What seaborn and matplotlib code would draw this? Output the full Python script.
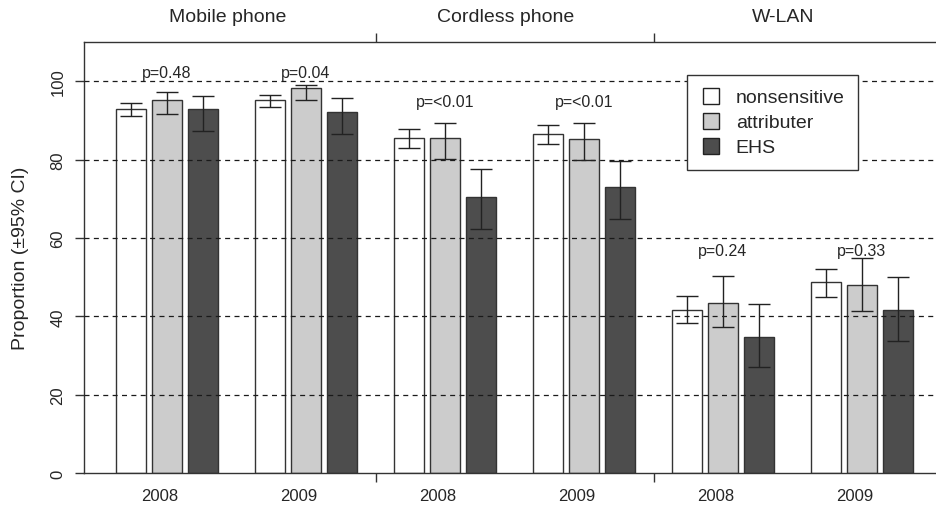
import numpy as np
import pandas as pd
import seaborn as sns
from matplotlib import pyplot as plt
from matplotlib.lines import Line2D
from matplotlib.transforms import blended_transform_factory

# Proportions (%) with 95% CI, per device and year
devices = ['Mobile phone', 'Cordless phone', 'W-LAN']
years = ['2008', '2009']
groups = ['nonsensitive', 'attributer', 'EHS']

nonsensitive = [92.9, 95.2, 85.6, 86.6, 41.6, 48.7]
nonsensitive_lo = [91.1, 93.4, 82.9, 84.0, 38.3, 45.0]
nonsensitive_hi = [94.5, 96.6, 87.9, 88.7, 45.3, 52.1]

attributer = [95.2, 98.2, 85.6, 85.3, 43.5, 47.9]
attributer_lo = [91.6, 95.2, 80.2, 79.8, 37.2, 41.4]
attributer_hi = [97.3, 99.1, 89.4, 89.3, 50.2, 54.8]

ehs = [92.9, 92.1, 70.4, 73.0, 34.6, 41.6]
ehs_lo = [87.4, 86.4, 62.3, 64.8, 27.0, 33.6]
ehs_hi = [96.2, 95.7, 77.7, 79.7, 43.2, 50.0]

p_values = ['p=0.48', 'p=0.04', 'p=<0.01', 'p=<0.01', 'p=0.24', 'p=0.33']

colors = ['#ffffff', '#cccccc', '#4d4d4d']

# long format table for seaborn
cells = [d + ' ' + y for d in devices for y in years]
values = {'nonsensitive': nonsensitive, 'attributer': attributer, 'EHS': ehs}
lows = {'nonsensitive': nonsensitive_lo, 'attributer': attributer_lo, 'EHS': ehs_lo}
highs = {'nonsensitive': nonsensitive_hi, 'attributer': attributer_hi, 'EHS': ehs_hi}
df = pd.DataFrame([(c, g, values[g][i]) for g in groups for i, c in enumerate(cells)],
                  columns=['cell', 'group', 'value'])

sns.set_style('white')
plt.rcParams['font.family'] = ['Liberation Sans', 'DejaVu Sans']

fig = plt.figure(figsize=(9.36, 5.06), dpi=100)
ax = fig.add_axes([84 / 936, 32 / 506, 852 / 936, 431 / 506])

sns.barplot(data=df, x='cell', y='value', hue='group', order=cells, hue_order=groups,
            palette=dict(zip(groups, colors)), width=0.78, gap=0.17, errorbar=None,
            edgecolor='#333333', linewidth=1.0, legend=False, ax=ax)

# error bars on top of each bar
for cont, g in zip(ax.containers, groups):
    xs = [b.get_x() + b.get_width() / 2 for b in cont]
    hs = np.array([b.get_height() for b in cont])
    yerr = [hs - np.array(lows[g]), np.array(highs[g]) - hs]
    ax.errorbar(xs, hs, yerr=yerr, fmt='none', ecolor='#222222', elinewidth=1.0,
                capsize=8, capthick=1.0, zorder=4)

# dashed reference lines
for y in range(20, 101, 20):
    ax.axhline(y, color='#1a1a1a', lw=0.9, ls=(0, (4, 3.5)), zorder=3)

ax.set_xlim(-0.597, 5.532)
ax.set_ylim(0, 110)

ax.set_xticks([i - 0.05 for i in range(len(cells))], labels=years * 3, fontsize=12)
ax.set_xticks([1.5, 3.5], minor=True)
ax.tick_params(axis='x', which='major', length=0, pad=11)
ax.tick_params(axis='x', which='minor', length=6.5, width=1, color='#333333',
               direction='out', top=True, bottom=True)

ax.set_yticks(range(0, 101, 20))
ax.tick_params(axis='y', length=6.5, width=1, color='#333333', left=True, labelsize=12, pad=7)
plt.setp(ax.get_yticklabels(), rotation=90, va='center')

ax.set_xlabel('')
ax.set_ylabel('Proportion (±95% CI)', fontsize=14, labelpad=15)

for side in ['left', 'top', 'bottom']:
    ax.spines[side].set_color('#333333')
    ax.spines[side].set_linewidth(1.0)
ax.spines['right'].set_visible(False)

# device names above the plot
trans = blended_transform_factory(ax.transData, ax.transAxes)
for i, d in enumerate(devices):
    ax.text(2 * i + 0.5 - 0.065, 1.06, d, transform=trans, ha='center', va='center', fontsize=14)

# p-values above each year
p_label_y = [102.2, 102.2, 94.7, 94.7, 56.7, 56.7]
for i, p in enumerate(p_values):
    ax.text(i, p_label_y[i], p, ha='center', va='center', fontsize=11.5)

handles = [Line2D([], [], ls='', marker='s', markersize=11, markerfacecolor=c,
                  markeredgecolor='#222222', markeredgewidth=1) for c in colors]
leg = ax.legend(handles, groups, loc='upper left', bbox_to_anchor=(0.708, 0.923),
                fontsize=14, frameon=True, fancybox=False, framealpha=1,
                edgecolor='#333333', borderpad=0.7, labelspacing=0.38,
                handlelength=1.0, handletextpad=0.8, borderaxespad=0)
leg.get_frame().set_linewidth(1.0)

plt.savefig('out.png', dpi=100)
